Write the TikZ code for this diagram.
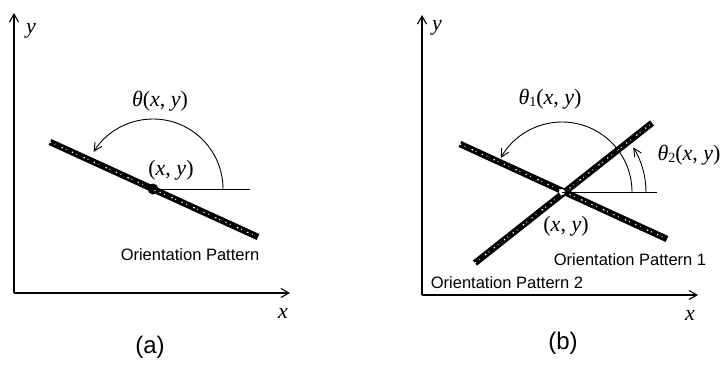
\documentclass[tikz,border=0pt]{standalone}
\usepackage{fontspec}
\newfontfamily\hv{Liberation Sans}
\newfontfamily\tms{Liberation Serif}
\usetikzlibrary{arrows.meta}
\newcommand{\xy}{(\textit{x}, \textit{y})}
\newcommand{\thsub}[1]{\textit{θ}\raisebox{-0.25ex}{\fontsize{14}{15}\selectfont #1}}
\begin{document}
\begin{tikzpicture}[x=1pt,y=-1pt,
 axis/.style={line width=1.1pt,-{Straight Barb[length=8pt,width=9pt]}},
 bar/.style={line width=6.5pt, black},
 speck/.style={line width=1.2pt, white, dash pattern=on 1.2pt off 4pt on 0.6pt off 7pt on 1.5pt off 3pt on 0.8pt off 6pt},
 anglearc/.style={line width=0.9pt,-{Straight Barb[length=8pt,width=8pt]}},
 refline/.style={line width=0.9pt},
 lbl/.style={font=\hv\fontsize{16.5}{18}\selectfont, inner sep=0},
 mathlbl/.style={font=\tms\fontsize{22}{24}\selectfont, inner sep=0},
 sublbl/.style={font=\hv\fontsize{24}{26}\selectfont, inner sep=0}
]
\useasboundingbox (0,0) rectangle (723,372);
% ---------- panel (a) ----------
\coordinate (Oa) at (14,293);
\coordinate (Ya) at (14,13);
\coordinate (Xa) at (290,293);
\draw[axis] (Oa) -- (Ya);
\draw[axis] (Oa) -- (Xa);
\node[mathlbl] (ya) at (31,31) {\textit{y}};
\node[mathlbl] (xa) at (283,313) {\textit{x}};
\coordinate (Ca) at (153,189);
\coordinate (A1) at (50,142);
\coordinate (A2) at (258,237);
\draw[bar] (A1) -- (A2);
\draw[speck] (A1) -- (A2);
\fill (Ca) circle (5.5);
\fill[white] ([shift={(2,1)}]Ca) circle (1);
\coordinate (Ha) at (250,189);
\draw[refline] (Ca) -- (Ha);
\draw[anglearc] ([shift={(0:70)}]Ca) arc[start angle=0,end angle=-148,radius=70];
\node[mathlbl] (tha) at (160,101) {\textit{θ}\xy};
\node[mathlbl] (pa) at (171,170) {\xy};
\node[lbl] (opa) at (190,255) {Orientation Pattern};
\node[sublbl] (capa) at (150,347) {(a)};
% ---------- panel (b) ----------
\coordinate (Ob) at (422,295);
\coordinate (Yb) at (422,15);
\coordinate (Xb) at (698,295);
\draw[axis] (Ob) -- (Yb);
\draw[axis] (Ob) -- (Xb);
\node[mathlbl] (yb) at (437,28) {\textit{y}};
\node[mathlbl] (xb) at (690,315) {\textit{x}};
\coordinate (Cb) at (562,192);
\coordinate (B1) at (460,144);
\coordinate (B2) at (667,239);
\coordinate (B3) at (475,263);
\coordinate (B4) at (652,123);
\draw[bar] (B1) -- (B2);
\draw[bar] (B3) -- (B4);
\draw[speck] (B1) -- (B2);
\draw[speck] (B3) -- (B4);
\fill[white] (Cb) circle (3);
\coordinate (Hb) at (657,192);
\draw[refline] (Cb) -- (Hb);
\draw[anglearc] ([shift={(0:70)}]Cb) arc[start angle=0,end angle=-151,radius=70];
\draw[anglearc] ([shift={(0:84)}]Cb) arc[start angle=0,end angle=-32,radius=84];
\node[mathlbl] (thb1) at (550,99) {\thsub{1}\xy};
\node[mathlbl] (thb2) at (689,155) {\thsub{2}\xy};
\node[mathlbl] (pb) at (566,226) {\xy};
\node[lbl] (op1) at (630,260) {Orientation Pattern 1};
\node[lbl] (op2) at (507,283) {Orientation Pattern 2};
\node[sublbl] (capb) at (563,343) {(b)};
\end{tikzpicture}
\end{document}
